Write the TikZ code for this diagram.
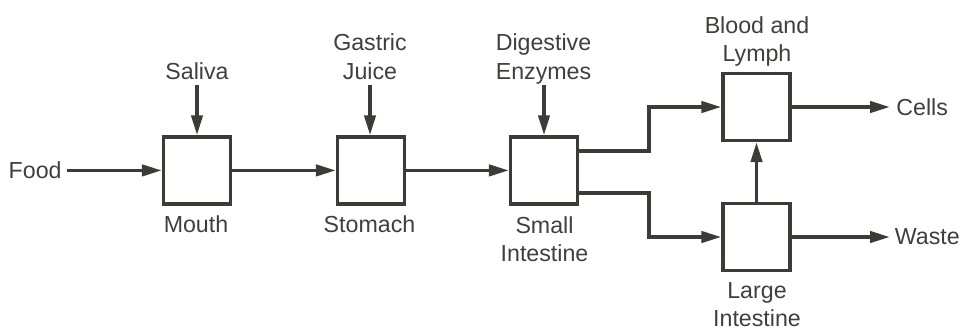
\documentclass[tikz,border=0pt]{standalone}
\usepackage{fontspec}
\setmainfont{Liberation Sans}
\usetikzlibrary{arrows.meta}
\definecolor{ln}{HTML}{3C3C36}
\definecolor{tx}{HTML}{3F3F3C}
\begin{document}
\begin{tikzpicture}[x=0.5pt,y=-0.5pt,
  box/.style={draw=ln, line width=1.6pt, minimum size=33.5pt, inner sep=0pt, fill=white},
  lbl/.style={text=tx, inner sep=0pt, font=\fontsize{11.6}{14.25}\selectfont, align=center},
  arr/.style={draw=ln, line width=1.8pt, -{Triangle[length=10pt,width=5.6pt]}},
]
\useasboundingbox (0,0) rectangle (963,329);

\node[box] (mouth) at (197,170.4) {};
\node[box] (stomach) at (371,170.4) {};
\node[box] (small) at (544,170.4) {};
\node[box] (blood) at (756.5,107) {};
\node[box] (large) at (756.5,237) {};

\node[lbl,anchor=east] (food) at (62,170.4) {Food};
\node[lbl,anchor=north] (saliva) at (197,62) {Saliva};
\node[lbl,anchor=north] (gastric) at (370,33.5) {Gastric\\Juice};
\node[lbl,anchor=north] (digest) at (543.5,33.5) {Digestive\\Enzymes};
\node[lbl,anchor=north] (bloodl) at (757,16) {Blood and\\Lymph};
\node[lbl,anchor=north] (mouthl) at (196,215.5) {Mouth};
\node[lbl,anchor=north] (stomachl) at (369.5,215.5) {Stomach};
\node[lbl,anchor=north] (smalll) at (544.5,216) {Small\\Intestine};
\node[lbl,anchor=north,font=\fontsize{11.6}{13.9}\selectfont] (largel) at (757,282) {Large\\Intestine};
\node[lbl,anchor=west] (cells) at (896,107) {Cells};
\node[lbl,anchor=west] (waste) at (894.5,237) {Waste};

\coordinate (salIn) at (197,85);
\coordinate (gasIn) at (370,85);
\coordinate (digIn) at (544,85);

\draw[arr, shorten <=2.5pt] (food.east) -- (mouth.west);
\draw[arr] (salIn) -- (mouth.north);
\draw[arr] (gasIn) -- (gasIn |- stomach.north);
\draw[arr] (digIn) -- (digIn |- small.north);
\draw[arr] (mouth.east) -- (stomach.west);
\draw[arr] (stomach.east) -- (small.west);
\draw[arr] ([yshift=9.65pt]small.east) -- ++(70,0) |- (blood.west);
\draw[arr] ([yshift=-11.35pt]small.east) -- ++(70,0) |- (large.west);
\draw[arr] (large.north) -- (blood.south);
\draw[arr, shorten >=3pt] (blood.east) -- (cells.west);
\draw[arr, shorten >=2.25pt] (large.east) -- (waste.west);
\end{tikzpicture}
\end{document}
